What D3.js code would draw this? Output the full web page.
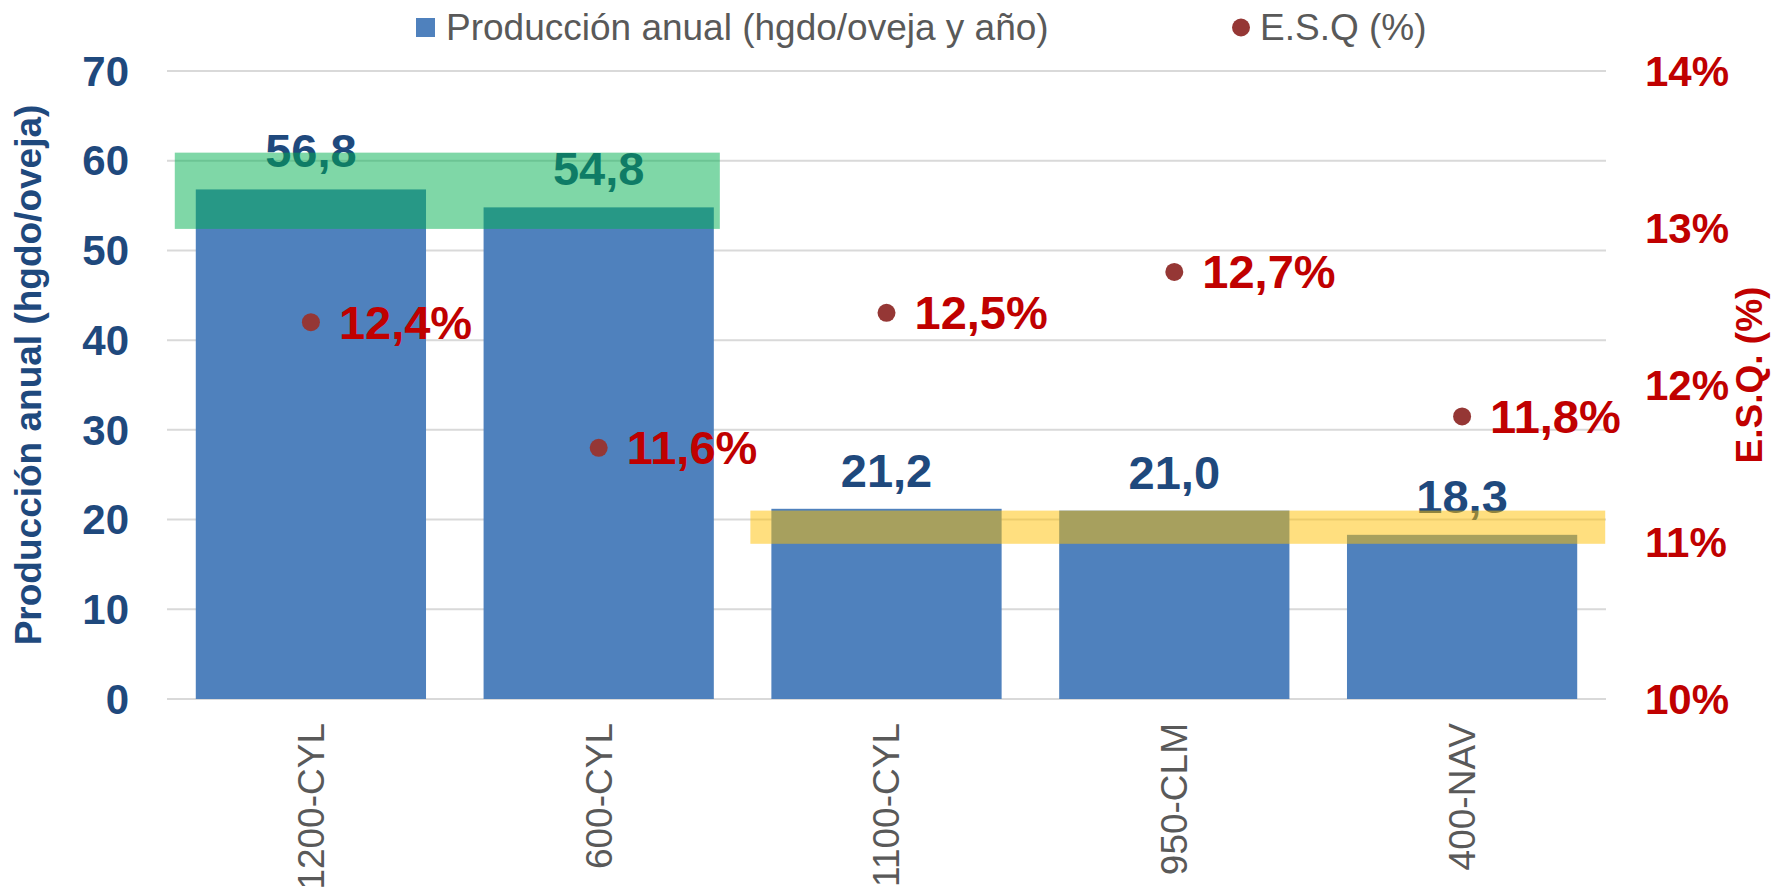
<!DOCTYPE html>
<html>
<head>
<meta charset="utf-8">
<script src="https://cdn.jsdelivr.net/npm/d3@7"></script>
<style>
  body { margin: 0; background: #fff; }
  text { font-family: "Liberation Sans", Arial, sans-serif; }
</style>
</head>
<body>
<div class="plot"></div>
<script>
// data
const categories = ["1200-CYL", "600-CYL", "1100-CYL", "950-CLM", "400-NAV"];
const produccion = [56.8, 54.8, 21.2, 21.0, 18.3];   // hgdo/oveja y año
const esq = [12.4, 11.6, 12.46, 12.72, 11.8];        // %
const leftTicks = [0, 10, 20, 30, 40, 50, 60, 70];
const rightTicks = [10, 11, 12, 13, 14];
const legendLabels = ["Producción anual (hgdo/oveja y año)", "E.S.Q (%)"];
const leftTitle = "Producción anual (hgdo/oveja)";
const rightTitle = "E.S.Q. (%)";

// highlighted bands (annotation boxes)
const highlightFrom = ["1200-CYL", "1100-CYL"];
const highlightTo = ["600-CYL", "400-NAV"];
const highlightLow = [52.4, 17.3];
const highlightHigh = [60.9, 21.0];
const highlightColor = ["#00B050", "#FFC000"];

const W = 1771, H = 888;
const margin = {top: 71, right: 165, bottom: 189, left: 167};
const blue = "#4F81BD", navy = "#1F497D", red = "#C00000", dotRed = "#953735", grey = "#595959";
const comma = v => d3.format(".1f")(v).replace(".", ",");

const svg = d3.select(".plot").append("svg")
  .attr("width", W).attr("height", H);

const x = d3.scaleBand()
  .domain(categories)
  .range([margin.left, W - margin.right])
  .paddingInner(0.2)
  .paddingOuter(0.1);
const yL = d3.scaleLinear().domain([0, 70]).range([H - margin.bottom, margin.top]);
const yR = d3.scaleLinear().domain([10, 14]).range([H - margin.bottom, margin.top]);
const bw = x.bandwidth();

// gridlines
svg.append("g").selectAll("line")
  .data(leftTicks).enter().append("line")
  .attr("x1", margin.left).attr("x2", W - margin.right)
  .attr("y1", d => yL(d)).attr("y2", d => yL(d))
  .attr("stroke", "#D9D9D9").attr("stroke-width", 2);

// bars
let rows = categories.map((c, i) => ({cat: c, prod: produccion[i], esq: esq[i]}));
svg.append("g").selectAll("rect")
  .data(rows).enter().append("rect")
  .attr("x", d => x(d.cat))
  .attr("y", d => yL(d.prod))
  .attr("width", bw)
  .attr("height", d => yL(0) - yL(d.prod))
  .attr("fill", blue);

svg.append("g").selectAll("text")
  .data(rows).enter().append("text")
  .attr("x", d => x(d.cat) + bw / 2)
  .attr("y", d => yL(d.prod) - 22)
  .attr("text-anchor", "middle")
  .style("font-size", "47px").style("font-weight", "bold")
  .attr("fill", navy)
  .text(d => comma(d.prod));

// highlight boxes over the bars
const hlPadLeft = [21, 21], hlPadRight = [6, 28];
svg.append("g").selectAll("rect")
  .data(highlightFrom.map((f, i) => i)).enter().append("rect")
  .attr("x", i => x(highlightFrom[i]) - hlPadLeft[i])
  .attr("y", i => yL(highlightHigh[i]))
  .attr("width", i => x(highlightTo[i]) + bw + hlPadRight[i] - (x(highlightFrom[i]) - hlPadLeft[i]))
  .attr("height", i => yL(highlightLow[i]) - yL(highlightHigh[i]))
  .attr("fill", i => highlightColor[i])
  .attr("fill-opacity", 0.5);

// E.S.Q points
svg.append("g").selectAll("circle")
  .data(rows).enter().append("circle")
  .attr("cx", d => x(d.cat) + bw / 2)
  .attr("cy", d => yR(d.esq))
  .attr("r", 9)
  .attr("fill", dotRed);

svg.append("g").selectAll("text")
  .data(rows).enter().append("text")
  .attr("x", d => x(d.cat) + bw / 2 + 28)
  .attr("y", d => yR(d.esq))
  .attr("dy", "0.35em")
  .style("font-size", "47px").style("font-weight", "bold")
  .attr("fill", red)
  .text(d => comma(d.esq) + "%");

// left axis labels
svg.append("g").selectAll("text")
  .data(leftTicks).enter().append("text")
  .attr("x", margin.left - 38)
  .attr("y", d => yL(d))
  .attr("dy", "0.35em")
  .attr("text-anchor", "end")
  .style("font-size", "42px").style("font-weight", "bold")
  .attr("fill", navy)
  .text(d => d);

// right axis labels
svg.append("g").selectAll("text")
  .data(rightTicks).enter().append("text")
  .attr("x", W - margin.right + 39)
  .attr("y", d => yR(d))
  .attr("dy", "0.35em")
  .style("font-size", "42px").style("font-weight", "bold")
  .attr("fill", red)
  .text(d => d + "%");

// category labels
svg.append("g").selectAll("text")
  .data(categories).enter().append("text")
  .attr("transform", d => "translate(" + (x(d) + bw / 2) + "," + (yL(0) + 24) + ") rotate(-90)")
  .attr("dy", "0.35em")
  .attr("text-anchor", "end")
  .style("font-size", "37px")
  .attr("fill", grey)
  .text(d => d);

// axis titles
let midY = (yL(0) + yL(70)) / 2 - 10;
svg.append("text")
  .attr("transform", "translate(41," + midY + ") rotate(-90)")
  .attr("text-anchor", "middle")
  .style("font-size", "37px").style("font-weight", "bold")
  .attr("fill", navy)
  .text(leftTitle);
svg.append("text")
  .attr("transform", "translate(1762," + midY + ") rotate(-90)")
  .attr("text-anchor", "middle")
  .style("font-size", "37px").style("font-weight", "bold")
  .attr("fill", red)
  .text(rightTitle);

// legend
let legend = svg.append("g");
legend.append("rect")
  .attr("x", 416).attr("y", 18).attr("width", 19).attr("height", 19)
  .attr("fill", blue);
legend.append("text")
  .attr("x", 446).attr("y", 40)
  .style("font-size", "37px").attr("fill", grey)
  .text(legendLabels[0]);
legend.append("circle")
  .attr("cx", 1241).attr("cy", 27.5).attr("r", 9)
  .attr("fill", dotRed);
legend.append("text")
  .attr("x", 1260).attr("y", 40)
  .style("font-size", "37px").attr("fill", grey)
  .text(legendLabels[1]);
</script>
</body>
</html>
